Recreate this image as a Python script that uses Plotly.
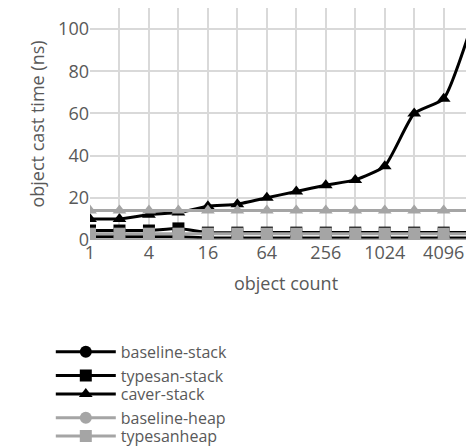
import plotly.graph_objects as go

counts = ["1","2","4","8","16","32","64","128","256","512","1024","2048","4096","8192"]
tick_labels = ["1","","4","","16","","64","","256","","1024","","4096",""]
baseline_stack = [1.5,1.5,1.5,1.5,1.0,1.0,1.0,1.0,1.0,1.0,1.0,1.0,1.0,1.0]
typesan_stack = [4.5,4.5,4.5,5.5,3.5,3.5,3.5,3.5,3.5,3.5,3.5,3.5,3.5,3.5]
caver_stack = [10,10,12,13,16,17,20,23,26,28.5,35,60,67,104]
baseline_heap = [0]*14
typesan_heap = [3]*14
caver_heap = [14]*14

x = list(range(len(counts)))
fig = go.Figure()
def add(name, y, color, symbol, leg):
    fig.add_trace(go.Scatter(x=x, y=y, name=name, mode="lines+markers", legend=leg,
        line=dict(color=color, width=3, shape="spline", smoothing=0.5),
        marker=dict(symbol=symbol, size=12, color=color)))
add("baseline-stack", baseline_stack, "black", "circle", "legend")
add("typesan-stack", typesan_stack, "black", "square", "legend")
add("caver-stack", caver_stack, "black", "triangle-up", "legend2")
add("baseline-heap", baseline_heap, "#a5a5a5", "circle", "legend2")
add("typesanheap", typesan_heap, "#a5a5a5", "square", "legend3")
add("caver-heap", caver_heap, "#a5a5a5", "triangle-up", "legend3")

font = dict(family="Open Sans, Liberation Sans, sans-serif", color="#595959")
lf = dict(size=16, **font)
def leg(yv):
    return dict(orientation="h", x=-0.1, xanchor="left", y=yv, yanchor="middle",
                entrywidth=205, entrywidthmode="pixels", itemwidth=60, font=lf,
                bgcolor="rgba(0,0,0,0)")
fig.update_layout(
    width=474, height=448, margin=dict(l=82, r=0, t=0, b=216, autoexpand=False),
    paper_bgcolor="white", plot_bgcolor="white", font=dict(size=18, **font),
    xaxis=dict(range=[0, 13.3], tickvals=x, ticktext=tick_labels, showgrid=True,
               automargin=False,
               gridcolor="#d9d9d9", gridwidth=1.5, zeroline=False, ticks="",
               title=dict(text="object count", font=dict(size=18), standoff=14),
               tickfont=dict(size=18)),
    yaxis=dict(range=[0, 110], tickvals=[0,20,40,60,80,100], showgrid=True,
               automargin=False,
               gridcolor="#d9d9d9", gridwidth=1.5, zeroline=False, ticks="",
               title=dict(text="object cast time (ns)", font=dict(size=18), standoff=8),
               tickfont=dict(size=18)),
    legend=leg(-0.534), legend2=leg(-0.716), legend3=leg(-0.897),
)
fig.write_html("out.html")
